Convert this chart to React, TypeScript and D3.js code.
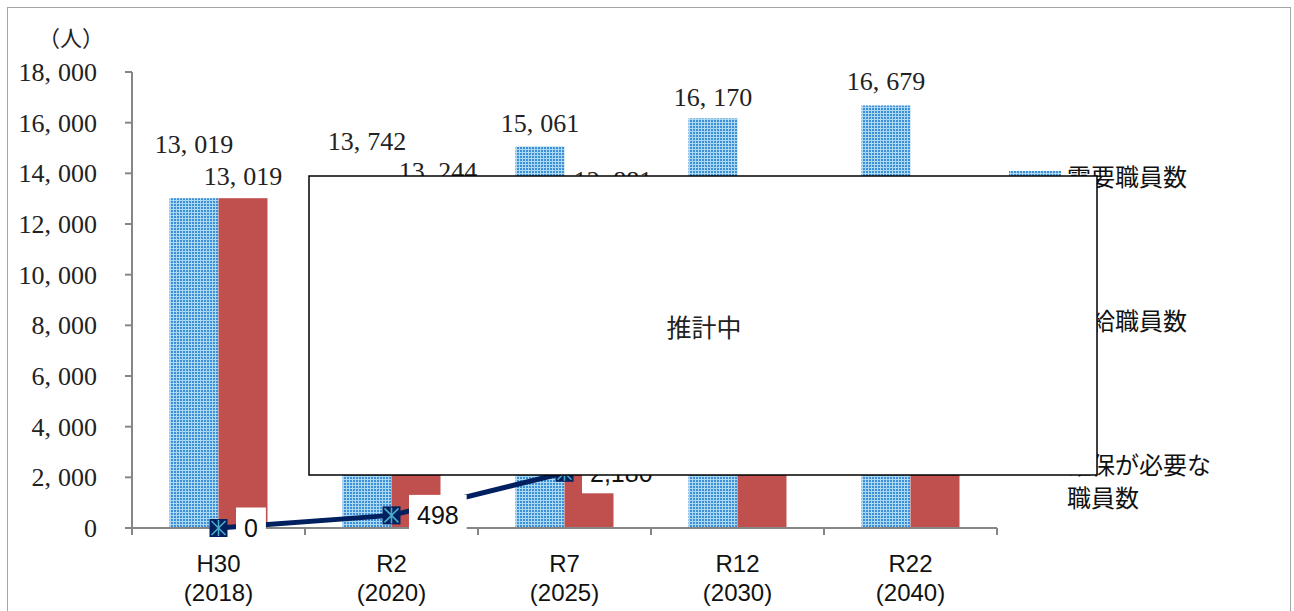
import React from 'react';
import * as d3 from 'd3';

// 区分と年度
const categories = ['H30', 'R2', 'R7', 'R12', 'R22'];
const years = ['(2018)', '(2020)', '(2025)', '(2030)', '(2040)'];

// 系列
const demand = [13019, 13742, 15061, 16170, 16679];
const supply = [13019, 13244, 12881, 12600, 12100];
const shortage = [0, 498, 2180, 3570, 4579];

const yTicks = [0, 2000, 4000, 6000, 8000, 10000, 12000, 14000, 16000, 18000];
const seriesNames = ['需要職員数', '供給職員数', '確保が必要な職員数'];

// ラベルの微調整（手動配置されていたもの）
const demandLabelDy = [-54, -39, -24, -21, -25];
const supplyLabelDx = [0, 22, 24, 22, 22];

const W = 1294;
const H = 611;
const margin = { top: 72, left: 132, right: 297, bottom: 83 };

const SERIF = '"Liberation Serif", "DejaVu Serif", serif';
const SANS = '"Liberation Sans", Arial, sans-serif';
const CJK = '"Noto Sans CJK JP", "Noto Sans", sans-serif';

const RED = '#c0504d';
const NAVY = '#002060';
const AXIS = '#868686';

// 明朝風の幅広カンマを真似る
function MinchoNum({ v }: { v: number }) {
  const s = d3.format(',')(v);
  const parts = s.split(',');
  if (parts.length === 1) return <>{s}</>;
  return (
    <>
      {parts[0]},
      <tspan dx={7}>{parts.slice(1).join(',')}</tspan>
    </>
  );
}

export default function App() {
  const x = d3.scaleBand<string>().domain(categories).range([margin.left, W - margin.right]).padding(0);
  const step = x.step();
  const groupW = 98;
  const x1 = d3
    .scaleBand<string>()
    .domain(['demand', 'supply'])
    .range([(step - groupW) / 2, (step + groupW) / 2])
    .padding(0);
  const y = d3.scaleLinear().domain([0, 18000]).range([H - margin.bottom, margin.top]);
  const y0 = y(0);
  const fmt = d3.format(',');

  const linePts: [number, number][] = categories.map((c, i) => [x(c)! + step / 2, y(shortage[i])]);
  const line = d3.line();

  const boundaries = categories.map((c) => x(c)!).concat([x(categories[categories.length - 1])! + step]);

  const lineLabelFont = 25;
  const charW = (s: string) => s.length * lineLabelFont * 0.556;

  return (
    <div style={{ position: 'absolute', left: 0, top: 0 }}>
      <svg width={W} height={H} style={{ display: 'block', background: '#fff' }}>
        <defs>
          <pattern id="dots" width={3} height={3} patternUnits="userSpaceOnUse">
            <rect width={3} height={3} fill="#acd9f2" />
            <rect width={2} height={2} fill="#3d90d8" />
          </pattern>
        </defs>

        {/* 外枠 */}
        <rect x={7.5} y={7.5} width={1283} height={700} fill="#fff" stroke="#a6a6a6" strokeWidth={1} />

        {/* 単位 */}
        <text x={71} y={38} dy="0.35em" textAnchor="middle" fontFamily={CJK} fontSize={22} fill="#222">
          （人）
        </text>

        {/* Y軸 */}
        <line x1={margin.left} x2={margin.left} y1={y(18000)} y2={y0} stroke={AXIS} strokeWidth={2} />
        {yTicks.map((t) => (
          <g key={t}>
            <line x1={margin.left - 7} x2={margin.left} y1={y(t)} y2={y(t)} stroke={AXIS} strokeWidth={2} />
            <text x={97} y={y(t)} dy="0.35em" textAnchor="end" fontFamily={SERIF} fontSize={26} fill="#222">
              <MinchoNum v={t} />
            </text>
          </g>
        ))}

        {/* 棒 */}
        {categories.map((c, i) => (
          <g key={c} transform={`translate(${x(c)},0)`}>
            <rect
              x={x1('demand')}
              y={y(demand[i])}
              width={x1.bandwidth()}
              height={y0 - y(demand[i])}
              fill="url(#dots)"
            />
            <rect
              x={x1('supply')}
              y={y(supply[i])}
              width={x1.bandwidth()}
              height={y0 - y(supply[i])}
              fill={RED}
            />
          </g>
        ))}

        {/* X軸 */}
        <line x1={margin.left} x2={boundaries[boundaries.length - 1]} y1={y0} y2={y0} stroke={AXIS} strokeWidth={2} />
        {boundaries.map((b, i) => (
          <line key={i} x1={b} x2={b} y1={y0} y2={y0 + 7} stroke={AXIS} strokeWidth={2} />
        ))}
        {categories.map((c, i) => (
          <g key={c} fontFamily={SANS} fontSize={24} fill="#111" textAnchor="middle">
            <text x={x(c)! + step / 2} y={572}>
              {c}
            </text>
            <text x={x(c)! + step / 2} y={601}>
              {years[i]}
            </text>
          </g>
        ))}

        {/* 棒のデータラベル */}
        {categories.map((c, i) => (
          <g key={c} fontFamily={SERIF} fontSize={26} fill="#222" textAnchor="middle">
            <text
              x={x(c)! + x1('demand')! + x1.bandwidth() / 2}
              y={y(demand[i]) + demandLabelDy[i]}
              dy="0.35em"
            >
              <MinchoNum v={demand[i]} />
            </text>
            <text
              x={x(c)! + x1('supply')! + x1.bandwidth() / 2 + supplyLabelDx[i]}
              y={y(supply[i]) - 22}
              dy="0.35em"
            >
              <MinchoNum v={supply[i]} />
            </text>
          </g>
        ))}

        {/* 折れ線 */}
        <path d={line(linePts) || ''} fill="none" stroke={NAVY} strokeWidth={5} />
        {linePts.map(([px, py], i) => {
          const label = fmt(shortage[i]);
          const w = charW(label) + 16;
          return (
            <g key={i}>
              <rect x={px + 17.5} y={py - 20.5} width={w} height={41} fill="#fff" />
              <text x={px + 25.5} y={py} dy="0.35em" fontFamily={SANS} fontSize={lineLabelFont} fill="#111">
                {label}
              </text>
            </g>
          );
        })}
        {linePts.map(([px, py], i) => (
          <g key={i} transform={`translate(${px},${py})`}>
            <rect x={-9} y={-9} width={18} height={18} fill={NAVY} />
            <path d="M-7,-7L7,7M7,-7L-7,7M0,-8V8" stroke="#4bacc6" strokeWidth={1.6} />
          </g>
        ))}

        {/* 凡例 */}
        <g fontFamily={CJK} fontSize={24} fill="#111">
          <rect x={1009} y={171} width={52} height={14} fill="url(#dots)" />
          <text x={1067} y={178} dy="0.35em">
            {seriesNames[0]}
          </text>
          <rect x={1009} y={315} width={52} height={14} fill={RED} />
          <text x={1067} y={322} dy="0.35em">
            {seriesNames[1]}
          </text>
          <line x1={1009} x2={1061} y1={466} y2={466} stroke={NAVY} strokeWidth={5} />
          <text x={1067} y={466} dy="0.35em">
            {seriesNames[2].slice(0, 6)}
          </text>
          <text x={1067} y={499} dy="0.35em">
            {seriesNames[2].slice(6)}
          </text>
        </g>

        {/* 推計中の覆い */}
        <rect x={309} y={176} width={788} height={299} fill="#fff" stroke="#000" strokeWidth={1.5} />
        <text x={704} y={328} dy="0.35em" textAnchor="middle" fontFamily={CJK} fontSize={25} fill="#222">
          推計中
        </text>
      </svg>
    </div>
  );
}
